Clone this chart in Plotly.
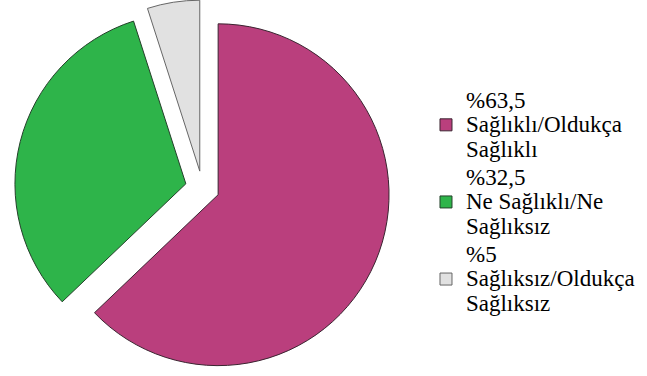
import plotly.graph_objects as go

# Data
percent_labels = ["%63,5", "%32,5", "%5"]
category_lines = [
    ["Sağlıklı/Oldukça", "Sağlıklı"],
    ["Ne Sağlıklı/Ne", "Sağlıksız"],
    ["Sağlıksız/Oldukça", "Sağlıksız"],
]
values = [63.5, 32.5, 5]
colors = ["rgb(186,63,125)", "rgb(46,180,74)", "rgb(225,225,225)"]
outline_colors = ["#3a2430", "#24402a", "#666666"]

FONT = "Liberation Serif, Times New Roman, Liberation Sans, serif"

def fmt(lines):
    return "<br>".join(f"<span style='font-size:23px'>{t}</span>" for t in lines)

labels = [fmt([p] + c) for p, c in zip(percent_labels, category_lines)]

fig = go.Figure(go.Pie(
    labels=labels,
    values=values,
    sort=False,
    direction="clockwise",
    rotation=0,
    pull=[0.1, 0.1, 0.1],
    textinfo="none",
    hoverinfo="value",
    marker=dict(colors=colors, line=dict(color=outline_colors, width=1)),
    domain=dict(x=[0, 0.6257], y=[0, 1]),
))

fig.update_layout(
    width=647, height=376,
    margin=dict(l=0, r=0, t=0, b=0, autoexpand=False),
    paper_bgcolor="white",
    plot_bgcolor="white",
    font=dict(family=FONT, color="black"),
    legend=dict(
        x=0.6584, y=0.462, xanchor="left", yanchor="middle",
        font=dict(size=19, family=FONT, color="black"),
        tracegroupgap=0, itemwidth=30,
    ),
    showlegend=True,
)

fig.write_html(
    "out.html",
    config={"displayModeBar": False},
    post_script="document.body.style.margin='0';document.body.style.overflow='hidden';",
)
